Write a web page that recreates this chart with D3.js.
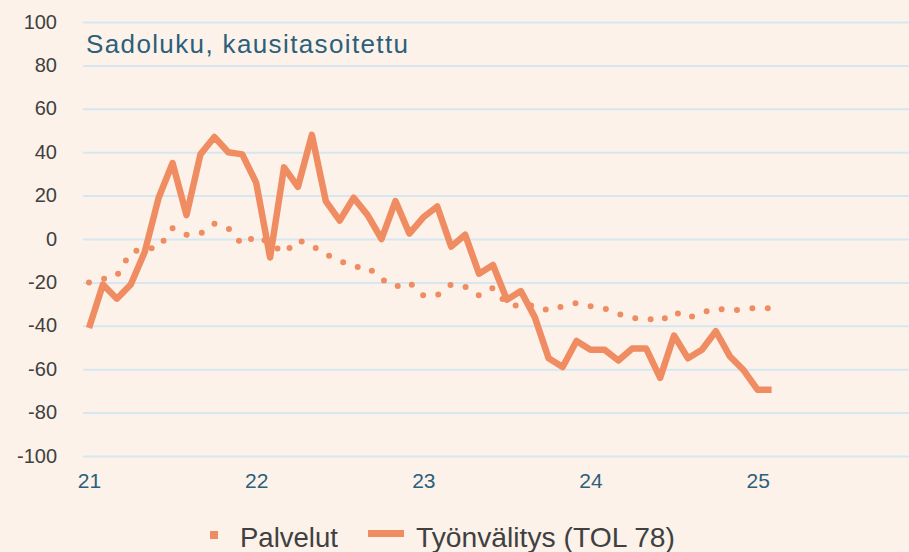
<!DOCTYPE html>
<html>
<head>
<meta charset="utf-8">
<script src="https://cdn.jsdelivr.net/npm/d3@7"></script>
<style>
  html, body { margin: 0; padding: 0; background: #FCF2E9; }
  svg { display: block; }
</style>
</head>
<body>
<svg id="chart" width="909" height="552"></svg>
<script>
const months = [
  "2021-01","2021-02","2021-03","2021-04","2021-05","2021-06","2021-07","2021-08","2021-09","2021-10","2021-11","2021-12",
  "2022-01","2022-02","2022-03","2022-04","2022-05","2022-06","2022-07","2022-08","2022-09","2022-10","2022-11","2022-12",
  "2023-01","2023-02","2023-03","2023-04","2023-05","2023-06","2023-07","2023-08","2023-09","2023-10","2023-11","2023-12",
  "2024-01","2024-02","2024-03","2024-04","2024-05","2024-06","2024-07","2024-08","2024-09","2024-10","2024-11","2024-12",
  "2025-01","2025-02"
];
const palvelut = [
  -20, -18.5, -17, -6, -4.5, -4, 5, 2, 2.5, 7, 5, -2.6,
  1.5, -2, -6.5, -0.5, -3, -7, -10, -12.8, -13, -18.5, -22, -20,
  -26, -26, -21, -22, -26, -22.5, -30, -31, -30.5, -33, -31, -29.5,
  -31, -32, -34.5, -36.5, -36.5, -38, -33.5, -36.5, -34, -32, -33, -32.5,
  -31.5, -32
];
const tyonvalitys = [
  -41, -21, -27.5, -21, -6, 19, 35, 11, 39, 47, 40, 39,
  26, -8.5, 33, 24, 48, 17.5, 8.5, 19, 11, 0, 17.5, 2.5,
  10, 15, -3.5, 2, -16, -12, -28, -24, -36, -55, -59, -47,
  -51, -51, -56, -50.5, -50.5, -64, -44.5, -55, -51, -42.5, -54, -60.5,
  -69.5, -69.5
];
const yearTickMonths = ["2021-01","2022-01","2023-01","2024-01","2025-01"];
const yearTickLabels = ["21","22","23","24","25"];
const yTicks = [100, 80, 60, 40, 20, 0, -20, -40, -60, -80, -100];
const seriesNames = ["Palvelut", "Työnvälitys (TOL 78)"];
const titleText = "Sadoluku, kausitasoitettu";

const COLOR = "#F08C62";
const FONT = "'Liberation Sans', Arial, sans-serif";
const svg = d3.select("#chart");

const x = d3.scaleLinear().domain([0, 60]).range([89, 89 + 60 * 13.93]);
const y = d3.scaleLinear().domain([-100, 100]).range([456, 22]);
const idx = m => months.indexOf(m);

// gridlines + y labels
const yAxis = d3.axisLeft(y).tickValues(yTicks).tickSize(-(909 - 83)).tickFormat(d => d);
const gy = svg.append("g").attr("transform", "translate(83,0)").call(yAxis);
gy.select(".domain").remove();
gy.selectAll(".tick line").attr("stroke", "#D6E7F2").attr("stroke-width", 2);
gy.selectAll(".tick text")
  .attr("x", -26)
  .attr("dy", "0.3em")
  .attr("fill", "#404040")
  .attr("font-family", FONT)
  .attr("font-size", 20)
  .attr("text-anchor", "end");

// x axis labels
const xAxis = d3.axisBottom(x)
  .tickValues(yearTickMonths.map(idx))
  .tickSize(0)
  .tickFormat((d, i) => yearTickLabels[i]);
const gx = svg.append("g").attr("transform", "translate(0,470)").call(xAxis);
gx.select(".domain").remove();
gx.selectAll(".tick text")
  .attr("y", 0)
  .attr("dy", "0.85em")
  .attr("fill", "#2B5F7B")
  .attr("font-family", FONT)
  .attr("font-size", 21);

// title
svg.append("text")
  .attr("x", 86).attr("y", 53)
  .attr("fill", "#2B5F7B")
  .attr("font-family", FONT)
  .attr("font-size", 26)
  .attr("textLength", 322)
  .attr("lengthAdjust", "spacing")
  .text(titleText);

const line = d3.line().x((d, i) => x(i)).y(d => y(d));

svg.append("path")
  .datum(palvelut)
  .attr("d", line)
  .attr("fill", "none")
  .attr("stroke", COLOR)
  .attr("stroke-width", 6)
  .attr("stroke-linecap", "round")
  .attr("stroke-linejoin", "round")
  .attr("stroke-dasharray", "0 15.5");

svg.append("path")
  .datum(tyonvalitys)
  .attr("d", line)
  .attr("fill", "none")
  .attr("stroke", COLOR)
  .attr("stroke-width", 6.5)
  .attr("stroke-linecap", "butt")
  .attr("stroke-linejoin", "round");

// legend
const lg = svg.append("g");
lg.append("rect").attr("x", 210).attr("y", 531).attr("width", 8).attr("height", 8).attr("fill", COLOR);
lg.append("text").attr("x", 240).attr("y", 547)
  .attr("fill", "#404040")
  .attr("font-family", FONT)
  .attr("font-size", 27.5)
  .text(seriesNames[0]);
lg.append("rect").attr("x", 368).attr("y", 530).attr("width", 36).attr("height", 7).attr("fill", COLOR);
lg.append("text").attr("x", 416).attr("y", 547)
  .attr("fill", "#404040")
  .attr("font-family", FONT)
  .attr("font-size", 27.5)
  .attr("textLength", 259)
  .attr("lengthAdjust", "spacingAndGlyphs")
  .text(seriesNames[1]);
</script>
</body>
</html>
